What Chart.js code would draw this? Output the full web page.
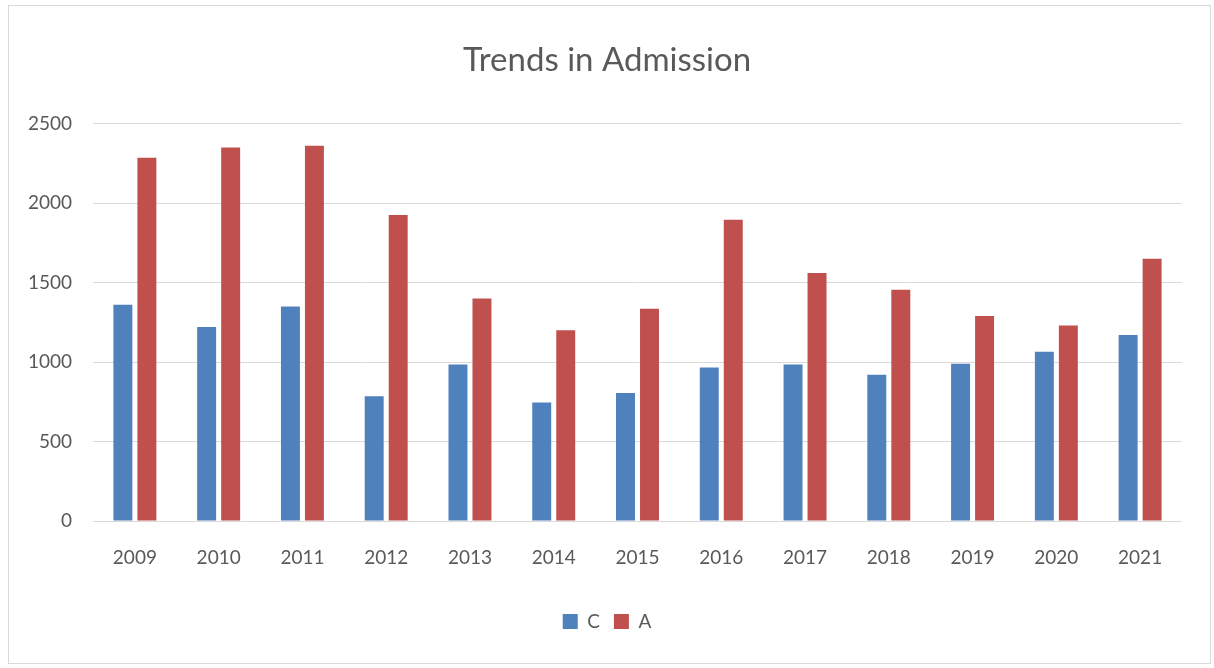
<!DOCTYPE html>
<html>
<head>
<meta charset="utf-8">
<title>Trends in Admission</title>
<script src="https://cdn.jsdelivr.net/npm/chart.js@4"></script>
<style>
  html, body { margin: 0; padding: 0; background: #fff; }
  #wrap { position: relative; width: 1214px; height: 668px; }
  #frame { position: absolute; left: 8px; top: 5px; width: 1201px; height: 657px;
           border: 1px solid #d9d9d9; pointer-events: none; }
  canvas { position: absolute; left: 0; top: 0; }
</style>
</head>
<body>
<div id="wrap">
  <canvas id="chart" width="1214" height="668"></canvas>
  <div id="frame"></div>
</div>
<script>
// Data
const years = ['2009', '2010', '2011', '2012', '2013', '2014', '2015',
               '2016', '2017', '2018', '2019', '2020', '2021'];
const seriesC = [1360, 1220, 1350, 785, 985, 745, 805, 965, 985, 920, 990, 1065, 1170];
const seriesA = [2285, 2350, 2360, 1925, 1400, 1200, 1335, 1895, 1560, 1455, 1290, 1230, 1650];
const yTicks = [0, 500, 1000, 1500, 2000, 2500];

const textColor = '#595959';
const gridColor = '#d9d9d9';

const ctx = document.getElementById('chart');
new Chart(ctx, {
    type: 'bar',
    data: {
        labels: years,
        datasets: [
            { label: 'C', data: seriesC, backgroundColor: '#4f81bd' },
            { label: 'A', data: seriesA, backgroundColor: '#c0504d' }
        ]
    },
    options: {
        responsive: false,
        animation: false,
        layout: { padding: { left: 0, right: 0, top: 0, bottom: 27 } },
        datasets: {
            bar: { categoryPercentage: 0.573, barPercentage: 0.79 }
        },
        plugins: {
            title: {
                display: true,
                text: 'Trends in Admission',
                color: textColor,
                font: { family: 'Lato', size: 33, weight: 'normal' },
                padding: { top: 41, bottom: 43 }
            },
            legend: {
                position: 'bottom',
                labels: {
                    color: textColor,
                    font: { family: 'Lato', size: 19 },
                    boxWidth: 15,
                    boxHeight: 15,
                    padding: 14
                }
            },
            tooltip: { enabled: false }
        },
        scales: {
            x: {
                grid: { display: false },
                border: { display: false },
                ticks: { color: textColor, font: { family: 'Lato', size: 19 }, padding: 17 },
                afterFit: scale => { scale.height = 77; }
            },
            y: {
                min: 0,
                max: 2500,
                afterBuildTicks: scale => { scale.ticks = yTicks.map(v => ({ value: v })); },
                grid: { color: gridColor, drawTicks: false },
                border: { display: false },
                ticks: {
                    color: textColor,
                    font: { family: 'Lato', size: 19 },
                    padding: 21,
                    callback: value => String(value)
                },
                afterFit: scale => { scale.width = 93; }
            },
            // empty right-hand axis, only keeps a margin so the title stays centred
            yRight: {
                position: 'right',
                display: true,
                grid: { display: false },
                border: { display: false },
                ticks: { display: false },
                afterFit: scale => { scale.width = 32; }
            }
        }
    }
});
</script>
</body>
</html>
